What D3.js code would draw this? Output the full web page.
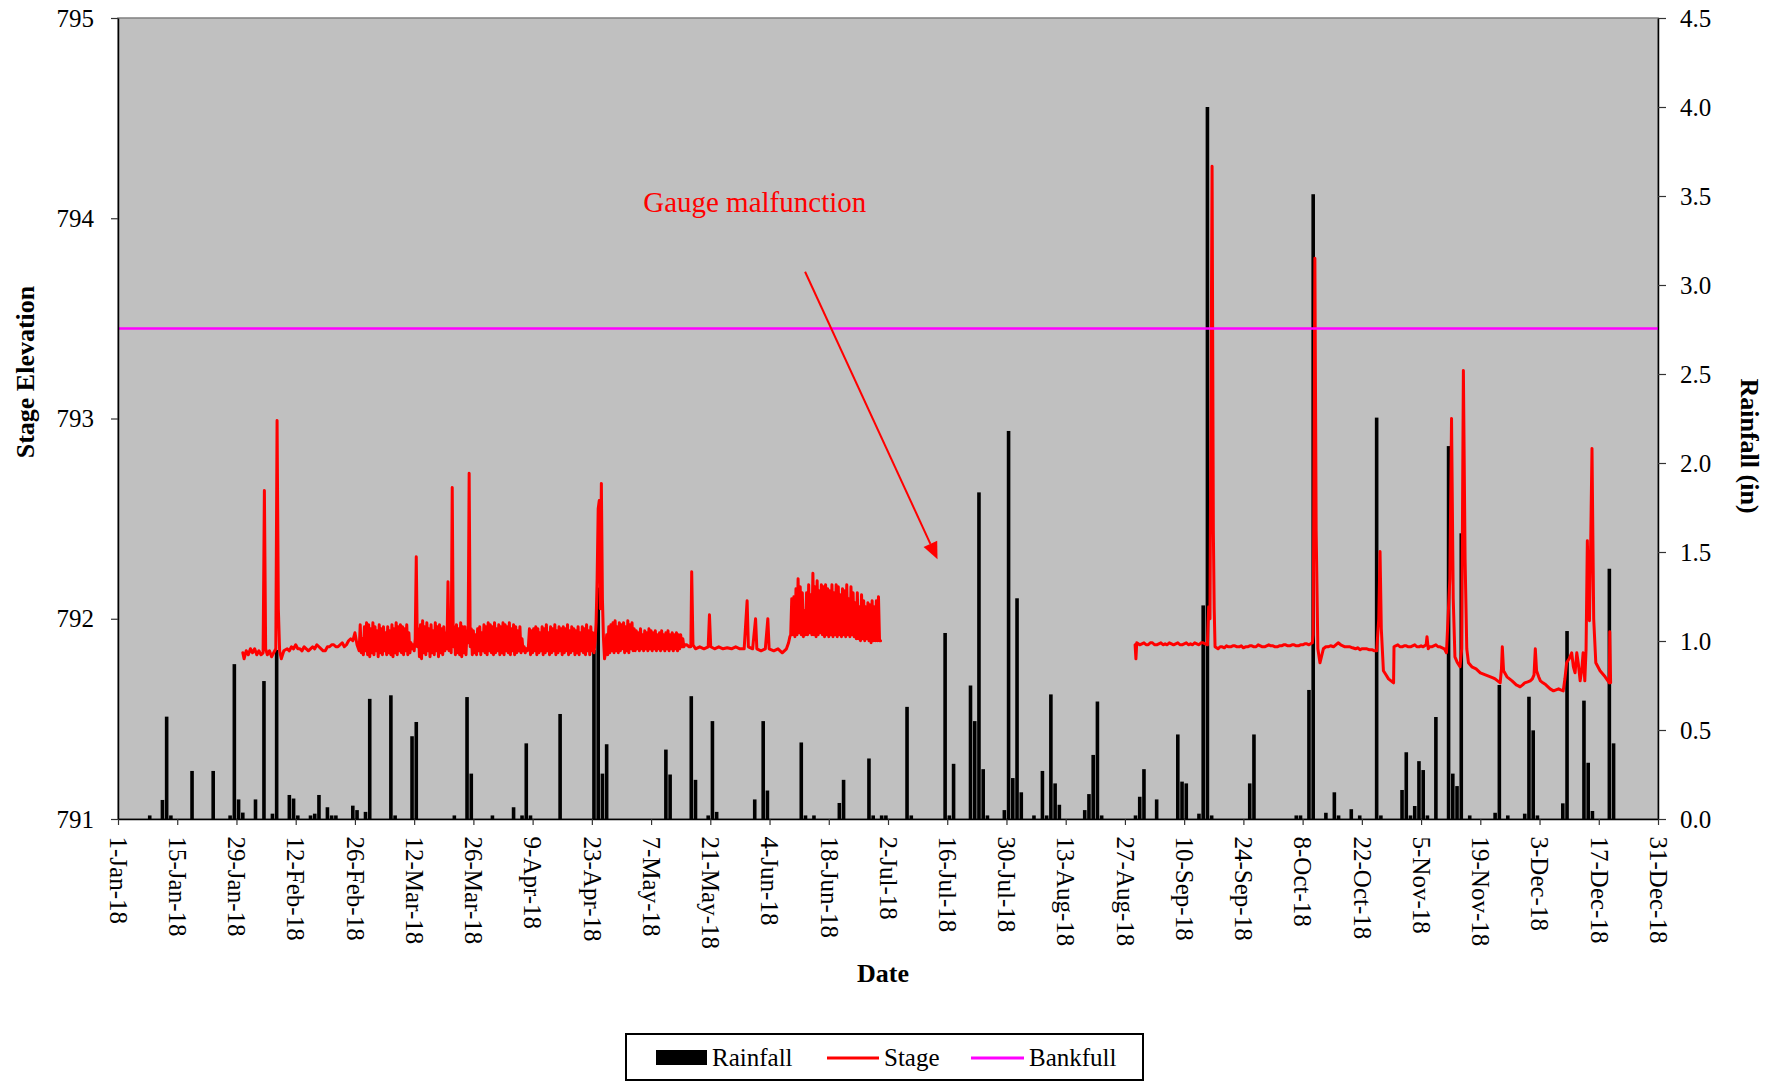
<!DOCTYPE html>
<html><head><meta charset="utf-8">
<script src="https://cdn.jsdelivr.net/npm/d3@7"></script>
<style>
body{margin:0;background:#fff}
svg{display:block}
text{font-family:"Liberation Serif","Times New Roman",serif}
</style>
</head><body>
<svg id="c" width="1782" height="1082"></svg>
<script>
// ---------- DATA ----------
const startUTC = Date.UTC(2018, 0, 1);          // day 0 = 1-Jan-18
const tickDays = d3.range(0, 365, 14);           // 1-Jan ... 31-Dec, every 14 days

// daily rainfall (inches), day index from 1-Jan-18
const rainDays = [7,10,11,12,17,22,26,27,28,29,32,34,36,37,40,41,42,45,46,47,49,50,51,55,56,58,59,64,65,69,70,79,82,83,88,93,95,96,97,104,
  112,113,114,115,129,130,135,136,139,140,141,150,152,153,161,162,164,170,171,177,178,180,181,186,187,195,196,197,
  201,202,203,204,205,209,210,211,212,213,216,218,219,220,221,222,228,229,230,231,232,240,241,242,245,250,251,252,255,256,257,258,
  267,268,278,279,281,282,285,287,288,291,293,297,298,303,304,305,306,307,308,309,311,314,315,316,317,319,325,326,328,
  332,333,334,335,341,342,346,347,348,352,353];
const rainInches = [0.02,0.107,0.575,0.02,0.27,0.27,0.02,0.87,0.11,0.036,0.11,0.775,0.03,0.95,0.135,0.115,0.02,0.02,0.03,0.135,0.066,0.02,0.02,0.075,0.05,0.04,0.675,0.695,0.02,0.465,0.545,0.02,0.685,0.255,0.02,0.066,0.02,0.425,0.02,0.59,
  0.95,1.30,0.255,0.42,0.39,0.25,0.69,0.22,0.02,0.55,0.04,0.11,0.55,0.16,0.43,0.02,0.02,0.09,0.22,0.34,0.02,0.02,0.02,0.63,0.02,1.045,0.02,0.31,
  0.75,0.55,1.835,0.28,0.02,0.05,2.18,0.23,1.24,0.15,0.02,0.27,0.02,0.70,0.20,0.08,0.05,0.14,0.36,0.66,0.02,0.02,0.125,0.28,0.11,0.475,0.21,0.20,0.03,1.20,4.00,0.02,
  0.20,0.475,0.02,0.02,0.725,3.51,0.035,0.15,0.02,0.055,0.02,2.255,0.02,0.163,0.375,0.02,0.073,0.325,0.275,0.02,0.573,2.095,0.255,0.185,1.605,0.02,0.035,0.753,0.02,
  0.03,0.687,0.498,0.02,0.088,1.056,0.665,0.316,0.045,1.406,0.425];

// stage elevation (ft). Irregular readings as [day, elevation]
const stageEarly = [
 [29.5,791.83],[29.8,791.80],[30.3,791.84],[30.8,791.82],[31.3,791.85],[31.8,791.83],[32.3,791.85],[32.8,791.82],[33.3,791.84],[33.8,791.82],
 [34.3,791.83],[34.6,792.64],[34.9,791.85],[35.3,791.82],[35.8,791.84],[36.3,791.81],[36.8,791.83],[37.3,791.85],[37.6,792.99],[37.9,792.05],
 [38.2,791.84],[38.6,791.80],[39.2,791.84],[40,791.85],[40.5,791.84],[41,791.86],[41.5,791.85],[42,791.87],[42.5,791.85],[43,791.85],[43.5,791.84],[44,791.86],
 [44.5,791.85],[45,791.84],[45.5,791.85],[46,791.86],[46.5,791.85],[47,791.87],[47.5,791.86],[48,791.85],[48.5,791.84],[49,791.84],[49.5,791.86],[50,791.86],
 [50.5,791.87],[51,791.87],[51.5,791.86],[52,791.86],[52.5,791.87],[53,791.88],[53.5,791.86],[54,791.87],[54.5,791.89],[55,791.90],[55.5,791.89],
 [56,791.93],[56.5,791.87]
];
// dense logger readings every 6 h (0.25 day) during the oscillating period
const readStep = 0.25;
const oscAStart = 57.0;
const oscA = [
 791.84,791.97,791.83,791.90,791.82,791.96,791.84,791.98,791.82,791.97,791.81,791.95,791.83,791.98,791.82,791.96,791.84,791.94,791.81,791.97,
 791.83,791.95,791.82,791.96,791.84,791.93,791.82,791.96,791.83,791.94,791.82,791.97,791.81,791.95,791.83,791.98,791.82,791.96,791.84,791.97,
 791.83,791.96,791.82,791.95,791.84,791.97,791.82,791.93,791.83,791.88,791.85,791.87,791.84,791.90,792.31,791.86,791.95,791.81,791.97,791.80,
 791.99,791.83,791.96,791.82,791.98,791.84,791.95,791.81,791.97,791.83,791.94,791.82,791.98,791.84,791.96,791.81,791.97,791.83,791.95,791.82,
 791.96,791.84,791.93,791.85,792.185,791.84,791.95,791.83,792.656,791.86,791.96,791.82,791.97,791.83,791.95,791.82,791.98,791.81,791.96,791.83,
 791.96,791.82,791.94,791.88,792.726,791.86,791.95,791.82,791.94,791.83,791.92,791.82,791.95,791.84,791.96,791.82,791.93,791.84,791.97,791.83,
 791.96,791.82,791.98,791.84,791.97,791.83,791.96,791.82,791.98,791.83,791.95,791.84,791.97,791.82,791.96,791.83,791.98,791.82,791.97,791.84,
 791.96,791.83,791.98,791.82,791.95,791.84,791.97,791.82,791.96,791.83,791.94,791.84,791.96,791.83,791.90,791.84,791.86,791.83,791.85,791.84,
 791.86,791.95,791.82,791.94,791.83,791.95,791.84,791.96,791.82,791.95,791.83,791.93,791.84,791.96,791.82,791.95,791.83,791.97,791.84,791.93,
 791.82,791.96,791.83,791.95,791.84,791.97,791.82,791.94,791.83,791.96,791.84,791.95,791.82,791.96,791.83,791.95,791.84,791.97,791.82,791.94,
 791.83,791.96,791.84,791.95,791.82,791.94,791.83,791.96,791.82,791.93,791.84,791.96,791.83,791.95,791.82,791.97,791.84,791.94,791.82,791.96,
 791.84,791.93,791.83,791.88,791.98,792.20,792.55,792.59,792.05,792.676,792.10,791.90,791.80,791.83,791.92,791.82,791.96,791.83,791.97,791.84,
 791.98,791.83,791.99,791.84,791.96,791.83,791.98,791.84,791.97,791.85,791.98,791.83,791.96,791.84,791.99,791.83,791.97,791.85,791.98,791.84,
 791.95,791.84,791.94,791.85,791.93,791.84,791.95,791.85,791.92,791.84,791.94,791.85,791.93,791.84,791.95,791.85,791.94,791.84,791.93,791.85,
 791.94,791.84,791.92,791.85,791.93,791.84,791.94,791.85,791.92,791.84,791.93,791.85,791.94,791.84,791.92,791.85,791.93,791.84,791.92,791.85,
 791.93,791.84,791.92,791.85,791.92,791.86,791.90,791.86,791.87
];
const stageMid = [
 [134.4,791.87],[135.0,791.86],[135.4,791.86],[135.6,792.235],[135.9,791.87],[136.5,791.85],[137.5,791.86],[138.5,791.85],[139.5,791.86],[139.8,792.02],
 [140.1,791.86],[141,791.85],[142,791.86],[143,791.85],[144,791.855],[145,791.85],[146,791.86],[147,791.85],[148,791.85],[148.7,792.09],[149.0,791.86],
 [150,791.85],[150.7,792.00],[151.0,791.85],[152,791.84],[153,791.85],[153.6,792.00],[153.9,791.85],[155,791.84],[156,791.85],[157,791.83],[158,791.85],
 [158.5,791.88],[158.8,791.91]
];
const oscBStart = 159.0;
const oscB = [
 791.92,792.10,791.92,792.11,791.91,792.15,791.92,792.20,791.93,792.16,791.92,792.13,791.91,792.04,791.92,792.13,791.92,792.17,791.93,792.12,
 791.92,792.227,791.92,792.16,791.91,792.19,791.92,792.14,791.93,792.17,791.92,792.16,791.91,792.17,791.92,792.15,791.91,792.14,791.92,792.17,
 791.91,792.13,791.92,792.17,791.91,792.16,791.92,792.12,791.91,792.15,791.92,792.14,791.91,792.17,791.92,792.10,791.91,792.16,791.92,792.13,
 791.91,792.08,791.90,792.13,791.90,792.06,791.89,792.12,791.90,792.09,791.89,792.06,791.90,792.08,791.89,792.07,791.88,792.09,791.89,792.06,
 791.89,792.09,791.89,792.11,791.89,791.89
];
// after the gauge malfunction gap
const stageLate = [
 [240.4,791.87],[240.6,791.80],[240.8,791.88],[241.5,791.87],[242.0,791.875],[242.5,791.88],[243.0,791.87],[243.5,791.87],[244.0,791.88],[244.5,791.88],
 [245.0,791.87],[245.5,791.87],[246.0,791.875],[246.5,791.88],[247.0,791.87],[247.5,791.875],[248.0,791.87],[248.5,791.88],[249.0,791.875],[249.5,791.87],
 [250.0,791.875],[250.5,791.88],[251.0,791.87],[251.5,791.87],[252.0,791.875],[252.5,791.88],[253.0,791.87],[253.5,791.875],[254.0,791.87],[254.5,791.88],
 [255.0,791.875],[255.5,791.87],[256.0,791.88],[256.5,791.88],[257.0,791.875],[257.5,791.87],
 [257.8,792.06],[258.1,792.00],[258.6,794.26],[258.9,792.44],[259.1,792.05],[259.3,791.86],[260,791.85],[260.5,791.86],[261,791.86],[261.5,791.855],[262,791.865],
 [262.5,791.86],[263,791.86],[263.5,791.865],[264,791.865],[264.5,791.86],[265,791.86],[265.5,791.865],[266,791.855],[266.5,791.86],[267,791.86],
 [267.5,791.865],[268,791.865],[268.5,791.86],[269,791.86],[269.5,791.87],[270,791.865],[270.5,791.86],[271,791.86],[271.5,791.865],[272,791.87],
 [272.5,791.865],[273,791.865],[273.5,791.86],[274,791.86],[274.5,791.865],[275,791.865],[275.5,791.87],[276,791.87],[276.5,791.865],[277,791.865],
 [277.5,791.87],[278,791.87],[278.5,791.865],[279,791.865],[279.5,791.87],[280,791.87],[280.5,791.875],[281,791.875],[281.5,791.87],[282.3,791.88],[282.5,791.92],
 [282.9,793.80],[283.2,792.44],[283.6,791.85],[284.1,791.78],[284.9,791.85],[285.5,791.86],[286,791.86],[286.6,791.865],[287.3,791.86],[288.4,791.88],[289.0,791.87],
 [289.5,791.865],[290.0,791.86],[290.5,791.86],[291.2,791.86],[291.8,791.855],[292.5,791.85],[293.0,791.855],[293.6,791.845],[294.0,791.85],[294.5,791.85],
 [295.2,791.85],[295.8,791.845],[296.5,791.845],[297.0,791.84],[297.5,791.84],[298.0,792.00],[298.3,792.336],[298.6,791.95],
 [299.1,791.74],[299.7,791.72],[300.3,791.70],[300.9,791.69],[301.5,791.68],[301.6,791.86],[302.0,791.865],[302.5,791.87],[303.0,791.86],[303.5,791.86],
 [304.0,791.865],[304.5,791.865],[305.0,791.86],[305.5,791.86],[306.0,791.865],[306.5,791.87],[307.0,791.86],[307.5,791.86],[308.0,791.865],
 [308.5,791.86],[309.2,791.87],[309.4,791.91],[309.7,791.85],[310.0,791.86],[310.5,791.86],[311.0,791.865],[311.5,791.87],[312.0,791.86],[312.5,791.86],
 [313.0,791.855],[313.5,791.85],[314.0,791.83],[314.8,792.20],
 [315.2,793.00],[315.6,792.10],[316.0,791.81],[316.6,791.78],[317.2,791.76],[317.6,791.85],[318.0,793.24],[318.4,792.30],[318.8,791.85],[319.2,791.78],[319.6,791.77],[320.0,791.76],
 [320.5,791.755],[321.0,791.75],[321.5,791.74],[322.0,791.73],[322.6,791.725],[323.2,791.72],[323.8,791.715],[324.4,791.71],[325.0,791.705],[325.5,791.70],[326.1,791.69],[326.7,791.68],
 [327.0,791.75],[327.2,791.86],[327.5,791.74],[328.3,791.71],[328.9,791.70],[329.5,791.69],[330.0,791.68],[330.5,791.67],[331.0,791.665],[331.4,791.66],[332.0,791.67],[332.5,791.68],
 [333.2,791.685],[333.8,791.69],[334.3,791.70],[334.7,791.72],[335.0,791.85],[335.3,791.74],[335.8,791.71],[336.2,791.69],[336.8,791.68],[337.5,791.67],
 [338.0,791.66],[338.5,791.65],[338.9,791.645],[339.3,791.64],[339.9,791.645],[340.5,791.65],[341.0,791.645],[341.6,791.64],[342.0,791.70],[342.4,791.78],[343.0,791.80],[343.6,791.83],[344.0,791.76],[344.4,791.73],
 [344.8,791.83],[345.2,791.77],[345.6,791.69],[346.0,791.75],[346.3,791.83],[346.7,791.69],[347.0,791.85],[347.3,792.39],[347.6,792.10],[347.8,791.99],
 [348.1,792.39],[348.4,792.85],[348.8,792.00],[349.3,791.78],[349.8,791.76],[350.3,791.74],[350.9,791.725],[351.5,791.71],[352.0,791.695],[352.5,791.68],[352.6,791.935],[352.8,791.68]
];
const bankfullElev = 793.45;
const annotationText = "Gauge malfunction";
const legendNames = ["Rainfall", "Stage", "Bankfull"];

// ---------- CHART ----------
const W = 1782, H = 1082;
const P = {l:118, r:1658, t:18, b:819};
const toDate = d => new Date(startUTC + d * 864e5);
const x = d3.scaleUtc().domain([toDate(0), toDate(364)]).range([P.l, P.r]);
const yL = d3.scaleLinear().domain([791, 795]).range([P.b, P.t]);
const yR = d3.scaleLinear().domain([0, 4.5]).range([P.b, P.t]);
const FONT = '"Liberation Serif","Times New Roman",serif';
const RED = "#FF0000", MAG = "#FF00FF";

const stageBeforeGap = stageEarly
  .concat(oscA.map((v, i) => [oscAStart + i * readStep, v]))
  .concat(stageMid)
  .concat(oscB.map((v, i) => [oscBStart + i * readStep, v]));

const svg = d3.select("#c");
svg.append("rect").attr("width", W).attr("height", H).attr("fill", "#fff");

svg.append("defs").append("clipPath").attr("id", "pc")
  .append("rect").attr("x", P.l).attr("y", P.t).attr("width", P.r - P.l).attr("height", P.b - P.t);

svg.append("rect").attr("x", P.l).attr("y", P.t).attr("width", P.r - P.l).attr("height", P.b - P.t)
  .attr("fill", "#C0C0C0").attr("stroke", "#808080").attr("stroke-width", 1.5);

const plot = svg.append("g").attr("clip-path", "url(#pc)");

// rainfall bars
const rain = rainDays.map((d, i) => ({day: d, v: rainInches[i]}));
const barW = 3.6;
plot.append("g").selectAll("rect").data(rain).join("rect")
  .attr("x", d => x(toDate(d.day + 0.5)) - barW / 2)
  .attr("y", d => yR(d.v))
  .attr("width", barW)
  .attr("height", d => yR(0) - yR(d.v))
  .attr("fill", "#000");

// stage line
const line = d3.line().x(d => x(toDate(d[0]))).y(d => yL(d[1]));
[stageBeforeGap, stageLate].forEach(seg => {
  plot.append("path").datum(seg).attr("d", line)
    .attr("fill", "none").attr("stroke", RED).attr("stroke-width", 3)
    .attr("stroke-linejoin", "round").attr("stroke-linecap", "round");
});

// bankfull
plot.append("path").datum([[0, bankfullElev], [364, bankfullElev]]).attr("d", line)
  .attr("fill", "none").attr("stroke", MAG).attr("stroke-width", 2.5);

// annotation
svg.append("text").attr("x", x(toDate(150.5))).attr("y", yL(794.03))
  .attr("text-anchor", "middle").attr("font-size", 29).attr("fill", RED).attr("font-family", FONT)
  .text(annotationText);
{
  const x1 = x(toDate(162.4)), y1 = yL(793.733);
  const x2 = x(toDate(193.7)), y2 = yL(792.297);
  const dx = x2 - x1, dy = y2 - y1, L = Math.hypot(dx, dy), ux = dx / L, uy = dy / L;
  const hl = 17, hw = 7.5;
  const bx = x2 - ux * hl, by = y2 - uy * hl;
  svg.append("line").attr("x1", x1).attr("y1", y1).attr("x2", bx).attr("y2", by)
    .attr("stroke", RED).attr("stroke-width", 2);
  svg.append("polygon")
    .attr("points", [[x2, y2], [bx - uy * hw, by + ux * hw], [bx + uy * hw, by - ux * hw]].map(p => p.join(",")).join(" "))
    .attr("fill", RED);
}

// axes
function styleAxis(g) {
  g.attr("font-size", 25).attr("font-family", FONT);
  g.selectAll(".domain").attr("stroke", "#000").attr("stroke-width", 1.5);
  g.selectAll(".tick line").attr("stroke", "#333").attr("stroke-width", 1.2);
  g.selectAll(".tick text").attr("fill", "#000");
}
svg.append("g").attr("transform", `translate(${P.l},0)`)
  .call(d3.axisLeft(yL).tickValues([791, 792, 793, 794, 795]).tickFormat(d3.format("d"))
    .tickSize(7).tickSizeOuter(0).tickPadding(17))
  .call(styleAxis);
svg.append("g").attr("transform", `translate(${P.r},0)`)
  .call(d3.axisRight(yR).tickValues(d3.range(0, 4.51, 0.5)).tickFormat(d3.format(".1f"))
    .tickSize(8).tickSizeOuter(0).tickPadding(14))
  .call(styleAxis);
const xa = svg.append("g").attr("transform", `translate(0,${P.b})`)
  .call(d3.axisBottom(x).tickValues(tickDays.map(toDate)).tickFormat(d3.utcFormat("%-d-%b-%y"))
    .tickSize(6).tickSizeOuter(0))
  .call(styleAxis);
xa.selectAll(".tick text")
  .attr("transform", "rotate(90)").attr("x", 17.5).attr("y", 0).attr("dy", "0.35em")
  .attr("text-anchor", "start");

// axis titles
svg.append("text").attr("transform", "translate(34,372) rotate(-90)")
  .attr("text-anchor", "middle").attr("font-size", 26).attr("font-weight", "bold").attr("font-family", FONT)
  .text("Stage Elevation");
svg.append("text").attr("transform", "translate(1741,446) rotate(90)")
  .attr("text-anchor", "middle").attr("font-size", 26).attr("font-weight", "bold").attr("font-family", FONT)
  .text("Rainfall (in)");
svg.append("text").attr("x", 883).attr("y", 982)
  .attr("text-anchor", "middle").attr("font-size", 26).attr("font-weight", "bold").attr("font-family", FONT)
  .text("Date");

// legend
const lg = svg.append("g").attr("font-family", FONT).attr("font-size", 25);
lg.append("rect").attr("x", 626).attr("y", 1034).attr("width", 517).attr("height", 46)
  .attr("fill", "#fff").attr("stroke", "#000").attr("stroke-width", 2);
lg.append("rect").attr("x", 656).attr("y", 1050).attr("width", 51).attr("height", 15).attr("fill", "#000");
lg.append("line").attr("x1", 827).attr("x2", 879).attr("y1", 1058).attr("y2", 1058).attr("stroke", RED).attr("stroke-width", 3);
lg.append("line").attr("x1", 971).attr("x2", 1024).attr("y1", 1058).attr("y2", 1058).attr("stroke", MAG).attr("stroke-width", 3);
const lx = [712, 884, 1029];
legendNames.forEach((n, i) => {
  lg.append("text").attr("x", lx[i]).attr("y", 1066).text(n);
});
</script>
</body></html>
